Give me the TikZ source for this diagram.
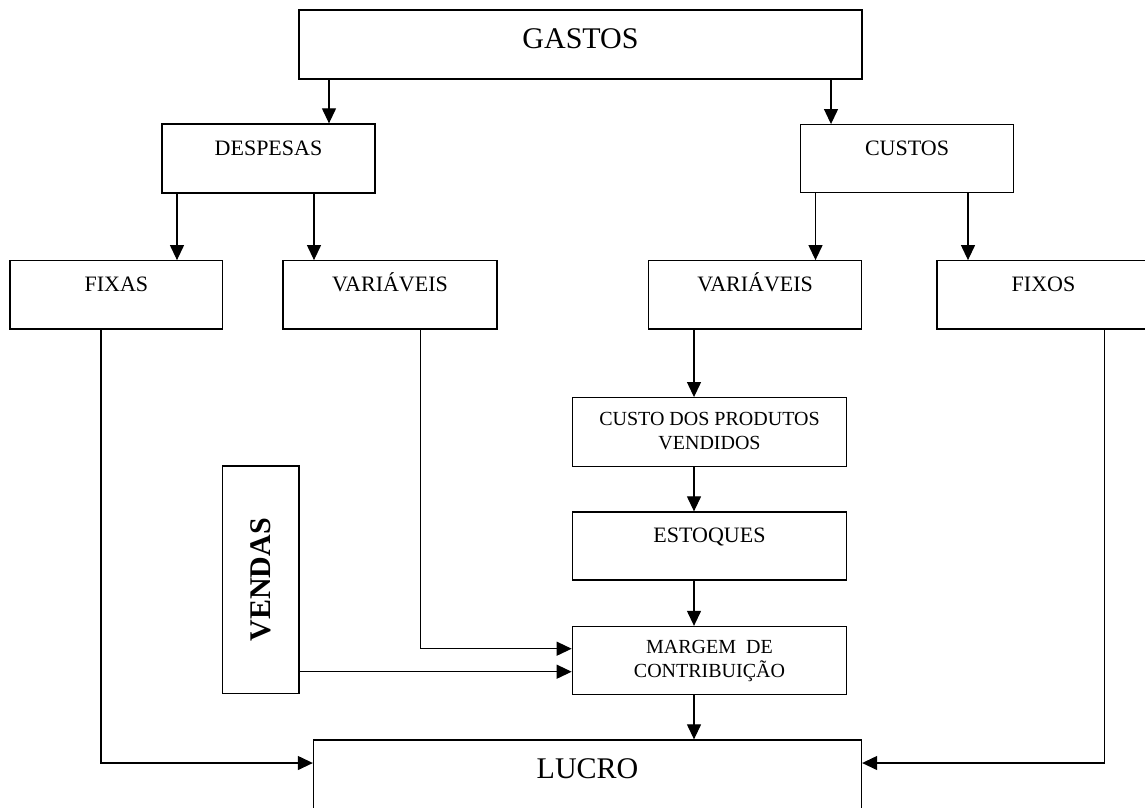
\documentclass[tikz,border=0pt]{standalone}
\usepackage{fontspec}
\setmainfont{Liberation Serif}
\usetikzlibrary{arrows.meta,calc}
\begin{document}
\begin{tikzpicture}[x=1pt,y=-1pt,
  rbox/.style 2 args={draw, line width=1.3pt, inner sep=0pt,
    minimum width=#1, minimum height=#2},
  big/.style={anchor=base, inner sep=0pt, font=\fontsize{30}{36}\selectfont},
  mid/.style={anchor=base, inner sep=0pt, font=\fontsize{22}{26}\selectfont},
  small/.style={anchor=base, inner sep=0pt, align=center,
    font=\fontsize{20}{23.5}\selectfont},
  conn/.style={line width=1.2pt},
  arr/.style={conn, -{Triangle[length=15pt,width=14pt]}}]

\useasboundingbox (0,0) rectangle (1145,807);
\fill[white] (0,0) rectangle (1145,807);
\clip (0,0) rectangle (1145,807);

% boxes
\node[rbox={563pt}{69pt}]     (gastos)   at (580.5,44.5)  {};
\node[rbox={213pt}{69pt}]     (despesas) at (268.5,158.5) {};
\node[rbox={213pt}{68pt}]     (custos)   at (907,158.7)   {};
\node[rbox={212.7pt}{68.3pt}] (fixas)    at (116.4,294.9) {};
\node[rbox={214pt}{68.3pt}]   (varl)     at (390,294.9)   {};
\node[rbox={213.2pt}{68.3pt}] (varr)     at (755.1,294.9) {};
\node[rbox={213pt}{68.3pt}]   (fixos)    at (1043.5,294.9){};
\node[rbox={274.4pt}{69pt}]   (cpv)      at (709.5,432.2) {};
\node[rbox={274.4pt}{68pt}]   (estoques) at (709.5,546)   {};
\node[rbox={274.4pt}{68pt}]   (margem)   at (709.5,660.5) {};
\node[rbox={76.3pt}{227.5pt}] (vendas)   at (260.85,579.75) {};
\node[rbox={548pt}{72pt}]     (lucro)    at (587.5,776)   {};

% labels (two-line labels are placed by the baseline of their last line)
\node[big]   (gastos-t)   at ($(gastos.north)+(0,39.3)$)   {GASTOS};
\node[mid]   (despesas-t) at ($(despesas.north)+(0,32)$)   {DESPESAS};
\node[mid]   (custos-t)   at ($(custos.north)+(0,31.3)$)   {CUSTOS};
\node[mid]   (fixas-t)    at ($(fixas.north)+(0,31.5)$)    {FIXAS};
\node[mid]   (varl-t)     at ($(varl.north)+(0,31.5)$)     {VARIÁVEIS};
\node[mid]   (varr-t)     at ($(varr.north)+(0,31.5)$)     {VARIÁVEIS};
\node[mid]   (fixos-t)    at ($(fixos.north)+(0,31.5)$)    {FIXOS};
\node[small] (cpv-t)      at ($(cpv.north)+(0,52.3)$)      {CUSTO DOS PRODUTOS\\VENDIDOS};
\node[mid]   (estoques-t) at ($(estoques.north)+(0,30.7)$) {ESTOQUES};
\node[small] (margem-t)   at ($(margem.north)+(0,51.5)$)   {MARGEM\ \ DE\\CONTRIBUIÇÃO};
\node[big]   (lucro-t)    at ($(lucro.north)+(0,39)$)      {LUCRO};
\node[rotate=90, inner sep=0pt, font=\bfseries\fontsize{30}{36}\selectfont]
  (vendas-t) at (vendas.center) {VENDAS};

% columns and rows used by the connectors
\coordinate (xgd) at (329,0);
\coordinate (xgc) at (831,0);
\coordinate (xdf) at (177,0);
\coordinate (xdv) at (314,0);
\coordinate (xcv) at (815.5,0);
\coordinate (xcf) at (968,0);
\coordinate (xfa) at (101,0);
\coordinate (xvl) at (420.5,0);
\coordinate (xmd) at (694,0);
\coordinate (xfo) at (1104.5,0);
\coordinate (yvl) at (0,648.7);
\coordinate (yvd) at (0,671.7);
\coordinate (ylu) at (0,763);

% connectors
\draw[arr] (gastos.south -| xgd) -- (despesas.north -| xgd);
\draw[arr] (gastos.south -| xgc) -- (custos.north -| xgc);
\draw[arr] (despesas.south -| xdf) -- (fixas.north -| xdf);
\draw[arr] (despesas.south -| xdv) -- (varl.north -| xdv);
\draw[arr] (custos.south -| xcv) -- (varr.north -| xcv);
\draw[arr] (custos.south -| xcf) -- (fixos.north -| xcf);
\draw[arr] (varr.south -| xmd) -- (cpv.north -| xmd);
\draw[arr] (cpv.south -| xmd) -- (estoques.north -| xmd);
\draw[arr] (estoques.south -| xmd) -- (margem.north -| xmd);
\draw[arr] (margem.south -| xmd) -- (lucro.north -| xmd);
\draw[arr] (varl.south -| xvl) |- (margem.west |- yvl);
\draw[arr] (vendas.east |- yvd) -- (margem.west |- yvd);
\draw[arr] (fixas.south -| xfa) |- (lucro.west |- ylu);
\draw[arr] (fixos.south -| xfo) |- (lucro.east |- ylu);
\end{tikzpicture}
\end{document}
